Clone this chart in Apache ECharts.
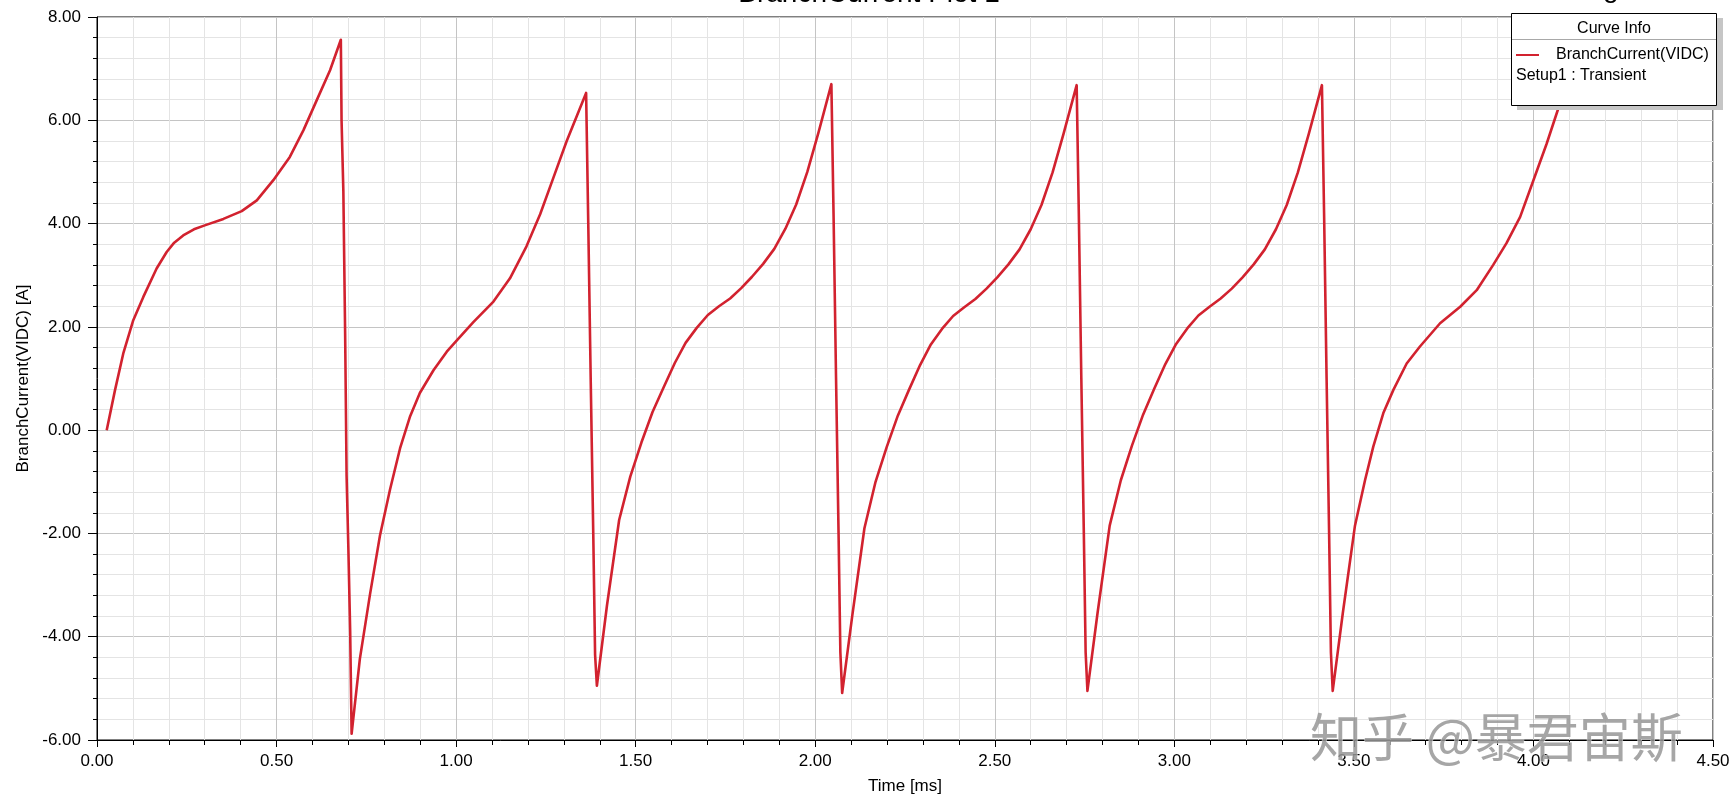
<!DOCTYPE html>
<html><head><meta charset="utf-8">
<script src="https://cdn.jsdelivr.net/npm/echarts@6/dist/echarts.min.js"></script>
<style>html,body{margin:0;padding:0;background:#fff}#c{width:1734px;height:802px}</style>
</head><body><div id="c"></div>
<script>
// Time [ms]
const timeMs = [
  0.027,0.050,0.073,0.101,0.129,0.166,0.194,0.215,0.240,0.270,0.302,0.352,0.403,0.445,0.491,0.537,0.575,0.612,0.649,0.679,
  0.681,0.686,0.691,0.695,0.700,0.705,0.709,
  0.732,0.760,0.788,0.816,0.844,0.872,0.899,0.937,0.974,1.002,1.048,1.104,1.150,1.196,1.234,1.271,1.308,1.362,
  1.368,1.375,1.382,1.387,1.392,
  1.420,1.454,1.485,1.516,1.547,1.578,1.609,1.639,1.670,1.701,1.732,1.763,1.794,1.824,1.855,1.886,1.917,1.947,1.978,2.009,2.045,
  2.051,2.058,2.065,2.070,2.075,
  2.103,2.137,2.168,2.199,2.230,2.261,2.292,2.322,2.353,2.384,2.415,2.446,2.477,2.507,2.538,2.569,2.600,2.630,2.661,2.692,2.728,
  2.734,2.741,2.748,2.753,2.758,
  2.786,2.820,2.851,2.882,2.913,2.944,2.975,3.005,3.036,3.067,3.098,3.129,3.160,3.190,3.221,3.252,3.283,3.313,3.344,3.375,3.411,
  3.417,3.424,3.431,3.436,3.441,
  3.469,3.503,3.531,3.554,3.582,3.610,3.647,3.684,3.740,3.796,3.842,3.888,3.925,3.963,4.000,4.037,4.074,4.090
];
// BranchCurrent(VIDC) [A]
const currentA = [
  0.00,0.77,1.48,2.13,2.58,3.13,3.45,3.63,3.77,3.89,3.97,4.09,4.24,4.45,4.84,5.29,5.81,6.39,6.97,7.56,
  6.00,4.63,1.85,-0.88,-2.30,-3.90,-5.88,
  -4.43,-3.19,-2.04,-1.15,-0.35,0.27,0.72,1.16,1.52,1.74,2.09,2.49,2.94,3.56,4.18,4.89,5.60,6.53,
  4.00,0.90,-2.04,-4.35,-4.95,
  -3.40,-1.74,-0.90,-0.24,0.35,0.83,1.30,1.69,1.98,2.23,2.40,2.55,2.75,2.97,3.22,3.51,3.90,4.37,5.00,5.76,6.70,
  4.20,1.00,-2.00,-4.30,-5.09,
  -3.60,-1.90,-1.00,-0.33,0.28,0.78,1.26,1.66,1.96,2.21,2.38,2.54,2.74,2.96,3.21,3.50,3.89,4.36,4.99,5.75,6.68,
  4.20,1.00,-2.00,-4.30,-5.05,
  -3.55,-1.85,-0.97,-0.30,0.30,0.80,1.28,1.67,1.97,2.22,2.39,2.55,2.74,2.96,3.21,3.50,3.89,4.36,4.99,5.75,6.68,
  4.20,1.00,-2.00,-4.30,-5.05,
  -3.55,-1.85,-0.97,-0.32,0.33,0.78,1.29,1.62,2.07,2.39,2.71,3.20,3.62,4.13,4.84,5.55,6.33,6.62
];
const xRange = [0, 4.5, 0.5];   // min, max, interval
const yRange = [-6, 8, 2];
const seriesName = 'BranchCurrent(VIDC)';
const setupText = 'Setup1 : Transient';
const titleText = 'BranchCurrent Plot 1';
const cornerText = 'Maxwell2DDesign1';
const xName = 'Time [ms]';
const yName = 'BranchCurrent(VIDC) [A]';
const watermark = '知乎 @暴君宙斯';

const FONT = "'Liberation Sans', Arial, sans-serif";
const RED = '#d2222f';
const data = timeMs.map((t, i) => [t, currentA[i]]);

const chart = echarts.init(document.getElementById('c'), null, {renderer: 'canvas'});
chart.setOption({
  animation: false,
  backgroundColor: '#fff',
  textStyle: {fontFamily: FONT},
  grid: {left: 97, top: 17, width: 1616, height: 723, show: true, borderColor: '#000', borderWidth: 1, backgroundColor: 'transparent'},
  xAxis: {
    type: 'value', min: xRange[0], max: xRange[1], interval: xRange[2],
    name: xName, nameLocation: 'middle', nameGap: 38,
    nameTextStyle: {fontSize: 17, color: '#000', fontFamily: FONT},
    axisLine: {onZero: false, lineStyle: {color: '#000', width: 1}},
    axisTick: {show: true, length: 7, lineStyle: {color: '#000'}},
    minorTick: {show: true, splitNumber: 5, length: 5, lineStyle: {color: '#000'}},
    axisLabel: {fontSize: 17, color: '#000', margin: 13, fontFamily: FONT, formatter: v => v.toFixed(2)},
    splitLine: {show: true, lineStyle: {color: '#c4c4c4', width: 1}},
    minorSplitLine: {show: true, lineStyle: {color: '#e4e4e4', width: 1}}
  },
  yAxis: {
    type: 'value', min: yRange[0], max: yRange[1], interval: yRange[2],
    name: yName, nameLocation: 'middle', nameGap: 52, nameRotate: 90,
    nameTextStyle: {fontSize: 17, color: '#000', fontFamily: FONT},
    axisLine: {show: true, onZero: false, lineStyle: {color: '#000', width: 1}},
    axisTick: {show: true, length: 9, lineStyle: {color: '#000'}},
    minorTick: {show: true, splitNumber: 5, length: 4, lineStyle: {color: '#000'}},
    axisLabel: {fontSize: 17, color: '#000', margin: 16, fontFamily: FONT, formatter: v => v.toFixed(2)},
    splitLine: {show: true, lineStyle: {color: '#c4c4c4', width: 1}},
    minorSplitLine: {show: true, lineStyle: {color: '#e4e4e4', width: 1}}
  },
  legend: {
    show: true, left: 1516, top: 47, z: 20, padding: 0,
    icon: 'rect', itemWidth: 23, itemHeight: 2,
    textStyle: {fontSize: 16, color: '#000', fontFamily: FONT, padding: [0, 0, 0, 12]},
    data: [seriesName], selectedMode: false
  },
  series: [{
    name: seriesName, type: 'line', data: data, showSymbol: false, symbol: 'none',
    smooth: false, z: 2, lineStyle: {color: RED, width: 2.6, join: 'round'}, itemStyle: {color: RED}
  }],
  graphic: [
    {type: 'text', z: 1, style: {text: titleText, x: 869, y: 8, align: 'center', verticalAlign: 'bottom', font: "28px " + FONT, fill: '#000'}},
    {type: 'text', z: 1, style: {text: cornerText, x: 1410, y: 3, align: 'left', verticalAlign: 'bottom', font: "28px " + FONT, fill: '#000'}},
    {type: 'rect', z: 15, shape: {x: 1517, y: 18, width: 206, height: 92}, style: {fill: '#c6c6c6'}},
    {type: 'rect', z: 16, shape: {x: 1511.5, y: 13.5, width: 205, height: 92}, style: {fill: '#fff', stroke: '#000', lineWidth: 1}},
    {type: 'line', z: 17, shape: {x1: 1512, y1: 39.5, x2: 1716, y2: 39.5}, style: {stroke: '#a8a8a8', lineWidth: 1}},
    {type: 'text', z: 17, style: {text: 'Curve Info', x: 1614, y: 29, align: 'center', verticalAlign: 'middle', font: "16px " + FONT, fill: '#000'}},
    {type: 'text', z: 17, style: {text: setupText, x: 1516, y: 76, align: 'left', verticalAlign: 'middle', font: "16px " + FONT, fill: '#000'}},
    {type: 'text', z: 30, style: {text: watermark, x: 1310, y: 737, align: 'left', verticalAlign: 'middle', font: "52px 'Noto Sans CJK SC'", fill: 'rgba(150,150,150,0.85)', stroke: 'rgba(255,255,255,0.6)', lineWidth: 1}}
  ]
});
</script>
</body></html>
